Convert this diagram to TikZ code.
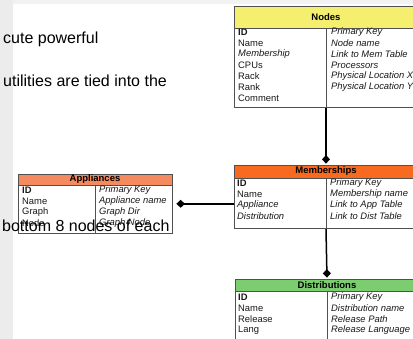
\documentclass[tikz,border=0pt]{standalone}
\usepackage{fontspec}
\setmainfont{Liberation Sans}
\usetikzlibrary{arrows.meta}
\definecolor{nodesyellow}{RGB}{245,239,112}
\definecolor{memorange}{RGB}{247,106,32}
\definecolor{distgreen}{RGB}{124,204,112}
\definecolor{appsalmon}{RGB}{244,138,94}
\definecolor{boxline}{RGB}{80,80,80}
\definecolor{stripgray}{RGB}{236,236,236}
\tikzset{
  hdr/.style={draw=boxline,line width=0.8pt,inner sep=0pt,font=\bfseries\fontsize{9.5}{10}\selectfont},
  tbody/.style={draw=boxline,line width=0.8pt,inner sep=0pt,anchor=north},
  fld/.style={anchor=west,inner sep=0pt,text=black!90,font=\fontsize{9.4}{10}\selectfont},
  keyfld/.style={fld,font=\bfseries\fontsize{9.4}{10}\selectfont},
  linkfld/.style={fld,font=\itshape\fontsize{9.4}{10}\selectfont},
  slide/.style={anchor=base west,inner sep=0pt,font=\fontsize{16}{18}\selectfont},
  link/.style={line width=1.5pt,-{Diamond[length=8.5pt,width=8pt]}}
}
\begin{document}
\begin{tikzpicture}[x=1pt,y=-1pt]
\useasboundingbox (0,0) rectangle (413,339);
\clip (0,0) rectangle (413,339);
\fill [stripgray] (0,0) rectangle (13,339);
\fill [stripgray!70] (13,0) rectangle (413,4);
\node [slide] (txtone) at (3,44) {cute powerful};
\node [slide] (txttwo) at (3,87) {utilities are tied into the};
% Nodes
\node [hdr,fill=nodesyellow,minimum width=183pt,minimum height=22pt] (nodeshead) at (326,17) {Nodes};
\node [tbody,fill=white,minimum width=183pt,minimum height=79pt] (nodesbody) at (nodeshead.south) {};
\draw [boxline,line width=0.8pt] (nodesbody.north) -- (nodesbody.south);
\node [keyfld] (nk1) at (238,32.5) {ID};
\node [fld] (nk2) at (238,43.5) {Name};
\node [linkfld] (nk3) at (238,54.5) {Membership};
\node [fld] (nk4) at (238,65.5) {CPUs};
\node [fld] (nk5) at (238,76.5) {Rack};
\node [fld] (nk6) at (238,87.5) {Rank};
\node [fld] (nk7) at (238,98.5) {Comment};
\node [linkfld] (nv1) at (331,32.5) {Primary Key};
\node [linkfld] (nv2) at (331,43.5) {Node name};
\node [linkfld] (nv3) at (331,54.5) {Link to Mem Table};
\node [linkfld] (nv4) at (331,65.5) {Processors};
\node [linkfld] (nv5) at (331,76.5) {Physical Location X};
\node [linkfld] (nv6) at (331,87.5) {Physical Location Y};
% Memberships
\node [hdr,fill=memorange,minimum width=184pt,minimum height=13pt] (memhead) at (326,171.5) {Memberships};
\node [tbody,fill=white,minimum width=184pt,minimum height=50pt] (membody) at (memhead.south) {};
\draw [boxline,line width=0.8pt] (membody.north) -- (membody.south);
\node [keyfld] (mk1) at (237,183.5) {ID};
\node [fld] (mk2) at (237,194.5) {Name};
\node [linkfld] (mk3) at (237,205.5) {Appliance};
\node [linkfld] (mk4) at (237,216.5) {Distribution};
\node [linkfld] (mv1) at (330,183.5) {Primary Key};
\node [linkfld] (mv2) at (330,194.5) {Membership name};
\node [linkfld] (mv3) at (330,205.5) {Link to App Table};
\node [linkfld] (mv4) at (330,216.5) {Link to Dist Table};
% Distributions
\node [hdr,fill=distgreen,minimum width=184pt,minimum height=12pt] (disthead) at (327,285) {Distributions};
\node [tbody,fill=white,minimum width=184pt,minimum height=60pt] (distbody) at (disthead.south) {};
\draw [boxline,line width=0.8pt] (distbody.north) -- (distbody.south);
\node [keyfld] (dk1) at (238,297.5) {ID};
\node [fld] (dk2) at (238,308.5) {Name};
\node [fld] (dk3) at (238,319.5) {Release};
\node [fld] (dk4) at (238,330.5) {Lang};
\node [linkfld] (dv1) at (331,297.5) {Primary Key};
\node [linkfld] (dv2) at (331,308.5) {Distribution name};
\node [linkfld] (dv3) at (331,319.5) {Release Path};
\node [linkfld] (dv4) at (331,330.5) {Release Language};
% Appliances
\node [hdr,fill=appsalmon,minimum width=154pt,minimum height=11pt] (apphead) at (95,179.5) {Appliances};
\node [tbody,fill=white,minimum width=154pt,minimum height=48pt] (appbody) at (apphead.south) {};
\draw [boxline,line width=0.8pt] (appbody.north) -- (appbody.south);
\node [keyfld] (ak1) at (22,190.5) {ID};
\node [fld] (ak2) at (22,201.5) {Name};
\node [fld] (ak3) at (22,212.5) {Graph};
\node [fld] (ak4) at (22,223.5) {Node};
\node [linkfld] (av1) at (99,190.5) {Primary Key};
\node [linkfld] (av2) at (99,201.5) {Appliance name};
\node [linkfld] (av3) at (99,212.5) {Graph Dir};
\node [linkfld] (av4) at (99,223.5) {Graph Node};
% connectors
\draw [link,shorten >=1pt] (nodesbody.south) -- (memhead.north);
\draw [link,shorten >=1pt] (membody.south) -- (disthead.north);
\draw [link,shorten >=4pt] (membody.west) -- (membody.west -| appbody.east);
\node [slide] (txtthree) at (2,232) {bottom 8 nodes of each};
\end{tikzpicture}
\end{document}
